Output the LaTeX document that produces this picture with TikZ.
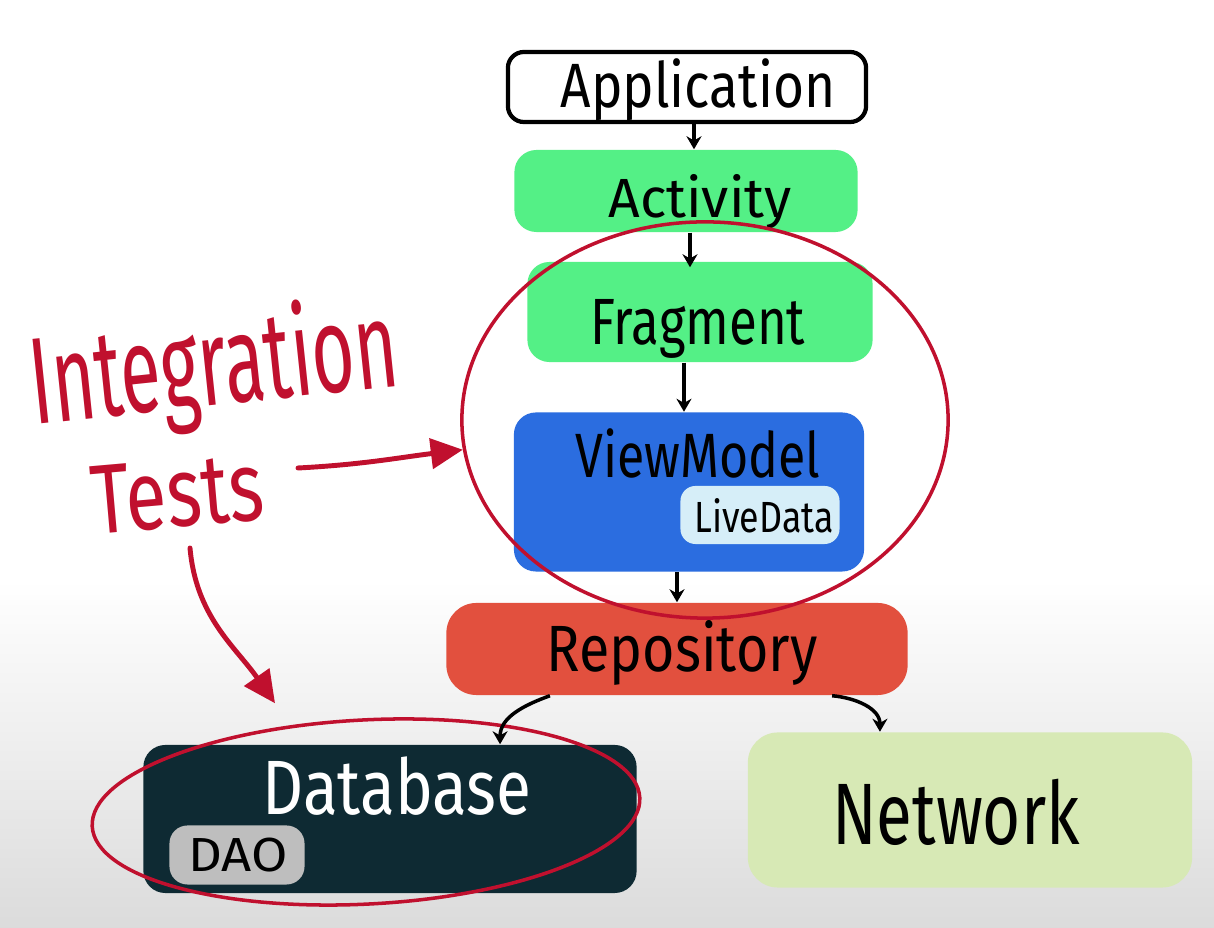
\documentclass[tikz,border=0pt]{standalone}
\usepackage{fontspec}
\setmainfont{Fira Sans}
\usetikzlibrary{arrows.meta, shapes.geometric}

\definecolor{actgreen}{RGB}{84,240,134}
\definecolor{vmblue}{RGB}{43,109,224}
\definecolor{livefill}{RGB}{214,238,248}
\definecolor{repored}{RGB}{226,80,62}
\definecolor{dbdark}{RGB}{14,42,51}
\definecolor{daogray}{RGB}{190,190,190}
\definecolor{netgreen}{RGB}{215,233,181}
\definecolor{inkred}{RGB}{192,16,46}

\tikzset{
  box/.style={rectangle, rounded corners=0.22cm, inner sep=0pt},
  lbl/.style={font=\fontsize{#1}{#1}\selectfont, inner sep=0pt, anchor=base},
  flow/.style={-{Stealth[length=0.13cm, width=0.15cm]}, line width=1pt},
  ring/.style={ellipse, draw=inkred, line width=1pt, inner sep=0pt},
  itarrow/.style={-{Triangle[length=0.32cm, width=0.3cm]}, draw=inkred, line width=1.4pt, line cap=round}
}

\begin{document}
\begin{tikzpicture}[x=0.01cm, y=-0.01cm]
\useasboundingbox (0,0) rectangle (1214,928);
\fill[white] (0,0) rectangle (1214,928);
\shade[top color=white, bottom color=black!14] (0,580) rectangle (1214,928);

% layers
\node[box, draw, line width=1.2pt, fill=white, minimum width=3.58cm, minimum height=0.7cm, rounded corners=0.16cm] (app) at (687,87) {};
\node[box, fill=actgreen, minimum width=3.43cm, minimum height=0.82cm] (act) at (686,191) {};
\node[box, fill=actgreen, minimum width=3.45cm, minimum height=1.0cm] (frag) at (700,312) {};
\node[box, fill=vmblue, minimum width=3.5cm, minimum height=1.59cm] (vm) at (689,492) {};
\node[box, fill=livefill, minimum width=1.59cm, minimum height=0.58cm, rounded corners=0.15cm] (live) at (760,515) {};
\node[box, fill=repored, minimum width=4.61cm, minimum height=0.92cm, rounded corners=0.3cm] (repo) at (677,649) {};
\node[box, fill=dbdark, minimum width=4.93cm, minimum height=1.48cm] (db) at (390,819) {};
\node[box, fill=daogray, minimum width=1.35cm, minimum height=0.59cm, rounded corners=0.18cm] (dao) at (237,855) {};
\node[box, fill=netgreen, minimum width=4.44cm, minimum height=1.55cm, rounded corners=0.3cm] (net) at (970,810) {};

% labels
\node[lbl=17.8pt, xscale=0.85] (appText) at (698,108) {Application};
\node[lbl=15.7pt] (actText) at (700,218) {Activity};
\node[lbl=18.6pt, xscale=0.78] (fragText) at (698,345) {Fragment};
\node[lbl=17.8pt, xscale=0.8] (vmText) at (698,478) {ViewModel};
\node[lbl=12.4pt, xscale=0.82] (liveText) at (764,533) {LiveData};
\node[lbl=18.6pt, xscale=0.85] (repoText) at (682,672) {Repository};
\node[lbl=21.9pt, xscale=0.83, text=white] (dbText) at (397,815) {Database};
\node[lbl=13.6pt, xscale=1.1] (daoText) at (238,872) {DAO};
\node[lbl=24.8pt, xscale=0.75] (netText) at (956,845) {Network};
\node[lbl=35pt, rotate=6, xscale=0.6, text=inkred] (itText) at (218,405) {Integration};
\node[lbl=28pt, rotate=5, xscale=0.76, text=inkred] (testsText) at (180,527) {Tests};

% circled parts
\node[ring, minimum width=4.86cm, minimum height=3.96cm] (vmRing) at (705,420) {};
\node[ring, minimum width=5.48cm, minimum height=1.84cm, rotate=3] (dbRing) at (366,812) {};

% dependencies
\draw[flow] ([xshift=0.07cm]app.south) -- ([xshift=0.07cm]app.south |- act.north);
\draw[flow] ([xshift=0.04cm]act.south) -- ([xshift=0.04cm, yshift=-0.06cm]act.south |- frag.north);
\draw[flow] ([xshift=-0.16cm]frag.south) -- ([xshift=-0.16cm]frag.south |- vm.north);
\draw[flow] ([xshift=-0.12cm]vm.south) -- ([xshift=-0.12cm]vm.south |- repo.north);
\draw[flow] ([xshift=-1.27cm]repo.south) to[out=200, in=90] ([xshift=1.1cm]db.north);
\draw[flow] ([xshift=1.55cm]repo.south) to[out=-5, in=90] ([xshift=-0.9cm]net.north);

% integration test pointers
\coordinate (itStart) at (298,468);
\coordinate (testsFoot) at (190,548);
\draw[itarrow] (itStart) to[out=3, in=187] (vmRing.187);
\draw[itarrow] (testsFoot) to[out=-85, in=125] ([xshift=-0.86cm, yshift=0.15cm]dbRing.north);
\end{tikzpicture}
\end{document}
